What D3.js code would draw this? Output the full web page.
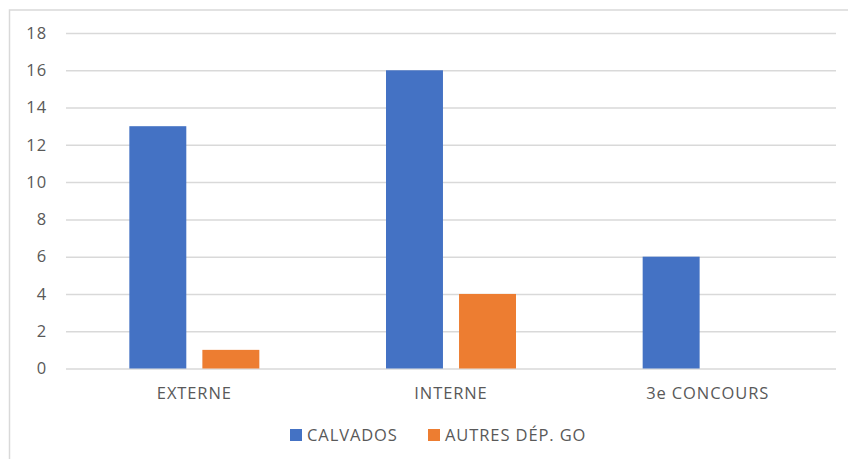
<!DOCTYPE html>
<meta charset="utf-8">
<style>
body { margin: 0; background: #fff; }
text { font-family: "Open Sans", "Noto Sans", sans-serif; fill: #595959; font-size: 16.5px; letter-spacing: 0.9px; }
.grid line { stroke: #d9d9d9; stroke-width: 1.5; }
.grid path { display: none; }
.frame { fill: none; stroke: #d9d9d9; stroke-width: 1.5; }
</style>
<svg width="848" height="459"></svg>
<script src="https://cdn.jsdelivr.net/npm/d3@7"></script>
<script>

var categories = ["EXTERNE", "INTERNE", "3e CONCOURS"];
var seriesNames = ["CALVADOS", "AUTRES DÉP. GO"];
var calvados = [13, 16, 6];
var autres = [1, 4, 0];
var yTicks = [0, 2, 4, 6, 8, 10, 12, 14, 16, 18];
var colors = ["#4472c4", "#ed7d31"];

var svg = d3.select("svg");

var plotLeft = 66, plotRight = 836, plotTop = 33, plotBottom = 368.5;

svg.append("rect")
    .attr("class", "frame")
    .attr("x", 9.5).attr("y", 10)
    .attr("width", 860).attr("height", 470);

var x = d3.scaleBand()
    .domain(categories)
    .range([plotLeft, plotRight]);

var x1 = d3.scaleBand()
    .domain(seriesNames)
    .range([0, 130])
    .paddingInner(0.22);

var y = d3.scaleLinear()
    .domain([0, 18])
    .range([plotBottom, plotTop]);

svg.append("g")
    .attr("class", "grid")
    .attr("transform", "translate(" + plotLeft + ",0)")
  .call(d3.axisLeft(y).tickValues(yTicks).tickSize(-(plotRight - plotLeft)).tickFormat(""));

yTicks.forEach(function(t) {
  svg.append("text")
      .attr("x", 47)
      .attr("y", y(t))
      .attr("dy", "0.35em")
      .attr("text-anchor", "end")
      .text(t);
});

var data = categories.map(function(c, i) {
  return { cat: c, values: [calvados[i], autres[i]] };
});

var groups = svg.append("g").selectAll("g")
    .data(data)
  .enter().append("g")
    .attr("transform", function(d) { return "translate(" + (x(d.cat) + x.bandwidth() / 2 - 65) + ",0)"; });

groups.selectAll("rect")
    .data(function(d) { return d.values.map(function(v, j) { return { name: seriesNames[j], v: v, j: j }; }); })
  .enter().append("rect")
    .attr("x", function(d) { return x1(d.name); })
    .attr("y", function(d) { return y(d.v); })
    .attr("width", x1.bandwidth())
    .attr("height", function(d) { return y(0) - y(d.v); })
    .attr("fill", function(d) { return colors[d.j]; });

categories.forEach(function(c) {
  svg.append("text")
      .attr("x", x(c) + x.bandwidth() / 2)
      .attr("y", 393)
      .attr("dy", "0.35em")
      .attr("text-anchor", "middle")
      .text(c);
});

var legendX = [290, 428];
seriesNames.forEach(function(s, i) {
  svg.append("rect")
      .attr("x", legendX[i]).attr("y", 429)
      .attr("width", 12).attr("height", 12)
      .attr("fill", colors[i]);
  svg.append("text")
      .attr("x", legendX[i] + 17)
      .attr("y", 435)
      .attr("dy", "0.35em")
      .text(s);
});

</script>
